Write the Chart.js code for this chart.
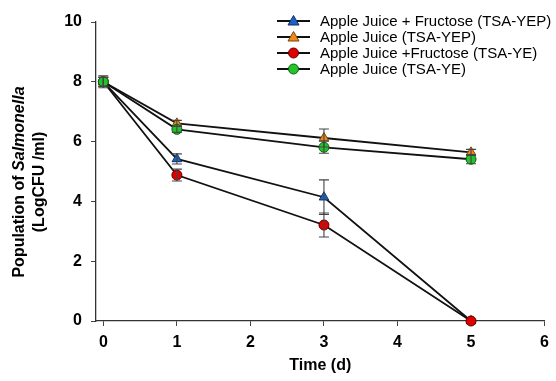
<!DOCTYPE html>
<html>
<head>
<meta charset="utf-8">
<script src="https://cdn.jsdelivr.net/npm/chart.js@4"></script>
<style>
  html, body { margin: 0; padding: 0; background: #fff; }
  #wrap { width: 556px; height: 381px; }
</style>
</head>
<body>
<div id="wrap"><canvas id="salChart" width="556" height="381"></canvas></div>
<script>
// data
const days = [0, 1, 3, 5];
const xTicks = [0, 1, 2, 3, 4, 5, 6];
const yTicks = [0, 2, 4, 6, 8, 10];

const seriesNames = [
  "Apple Juice + Fructose (TSA-YEP)",
  "Apple Juice (TSA-YEP)",
  "Apple Juice +Fructose (TSA-YE)",
  "Apple Juice (TSA-YE)"
];
const fructoseYEP = [8.0, 5.42, 4.14, 0];
const juiceYEP    = [8.0, 6.61, 6.12, 5.64];
const fructoseYE  = [8.0, 4.88, 3.21, 0];
const juiceYE     = [8.0, 6.41, 5.81, 5.41];

const errFructoseYEP = [0.15, 0.17, 0.58, 0];
const errJuiceYEP    = [0.15, 0.1, 0.3, 0.1];
const errFructoseYE  = [0.15, 0.2, 0.4, 0];
const errJuiceYE     = [0.2, 0.1, 0.2, 0.15];

const FONT = "'Liberation Sans', Arial, sans-serif";

const styles = [
  { fill: "#1f62c4", edge: "#0d2f66", shape: "triangle" },
  { fill: "#ee8a1c", edge: "#7a4205", shape: "triangle" },
  { fill: "#e00000", edge: "#5a0000", shape: "circle" },
  { fill: "#22c42a", edge: "#0b5a10", shape: "circle" }
];
const allValues = [fructoseYEP, juiceYEP, fructoseYE, juiceYE];
const allErrors = [errFructoseYEP, errJuiceYEP, errFructoseYE, errJuiceYE];

const datasets = allValues.map((vals, i) => ({
  label: seriesNames[i],
  data: days.map((d, j) => ({ x: d, y: vals[j] })),
  errors: allErrors[i],
  order: allValues.length - 1 - i, // later series sit on top
  borderColor: "#111",
  borderWidth: 1.8,
  tension: 0,
  pointStyle: styles[i].shape,
  pointRadius: styles[i].shape === "triangle" ? 5.5 : 5,
  pointBackgroundColor: styles[i].fill,
  pointBorderColor: styles[i].edge,
  pointBorderWidth: 1,
  clip: false
}));

// error bars drawn with the chart's scales
const errorBars = {
  id: "errorBars",
  afterDatasetsDraw(chart) {
    const { ctx, scales: { x, y } } = chart;
    ctx.save();
    ctx.strokeStyle = "#444";
    ctx.lineWidth = 1.1;
    chart.data.datasets.forEach(ds => {
      ds.data.forEach((p, j) => {
        const e = ds.errors[j];
        if (!e) return;
        const px = x.getPixelForValue(p.x);
        const top = y.getPixelForValue(p.y + e);
        const bot = y.getPixelForValue(p.y - e);
        ctx.beginPath();
        ctx.moveTo(px, top); ctx.lineTo(px, bot);
        ctx.moveTo(px - 5, top); ctx.lineTo(px + 5, top);
        ctx.moveTo(px - 5, bot); ctx.lineTo(px + 5, bot);
        ctx.stroke();
      });
    });
    ctx.restore();
  }
};

function drawMarker(ctx, shape, cx, cy, fill, edge) {
  ctx.beginPath();
  if (shape === "circle") {
    ctx.arc(cx, cy, 5, 0, Math.PI * 2);
  } else {
    ctx.moveTo(cx, cy - 5.5);
    ctx.lineTo(cx + 5.5, cy + 4);
    ctx.lineTo(cx - 5.5, cy + 4);
    ctx.closePath();
  }
  ctx.fillStyle = fill;
  ctx.fill();
  ctx.strokeStyle = edge;
  ctx.lineWidth = 1;
  ctx.stroke();
}

// legend in the top right, line + marker + label
const legendBox = {
  id: "legendBox",
  afterDraw(chart) {
    const ctx = chart.ctx;
    ctx.save();
    ctx.font = "15px " + FONT;
    ctx.textBaseline = "middle";
    seriesNames.forEach((name, i) => {
      const yy = 21 + i * 16;
      ctx.strokeStyle = "#111";
      ctx.lineWidth = 1.8;
      ctx.beginPath();
      ctx.moveTo(277, yy); ctx.lineTo(310, yy);
      ctx.stroke();
      drawMarker(ctx, styles[i].shape, 293.5, yy, styles[i].fill, styles[i].edge);
      ctx.fillStyle = "#000";
      ctx.fillText(name, 320, yy + 1);
    });
    ctx.restore();
  }
};

// rotated y title with italic genus name
const yTitle = {
  id: "yTitle",
  afterDraw(chart) {
    const ctx = chart.ctx;
    ctx.save();
    ctx.translate(0, 182);
    ctx.rotate(-Math.PI / 2);
    ctx.fillStyle = "#000";
    ctx.textBaseline = "middle";
    const bold = "bold 16px " + FONT;
    const ital = "italic bold 16px " + FONT;
    ctx.font = bold;
    const a = "Population of ";
    const wa = ctx.measureText(a).width;
    ctx.font = ital;
    const wb = ctx.measureText("Salmonella").width;
    let sx = -(wa + wb) / 2;
    ctx.font = bold;
    ctx.textAlign = "left";
    ctx.fillText(a, sx, 20);
    ctx.font = ital;
    ctx.fillText("Salmonella", sx + wa, 20);
    ctx.font = bold;
    ctx.textAlign = "center";
    ctx.fillText("(LogCFU /ml)", 0, 40);
    ctx.restore();
  }
};

const ctx = document.getElementById("salChart").getContext("2d");
const chart = new Chart(ctx, {
  type: "line",
  data: { datasets: datasets },
  plugins: [errorBars, legendBox, yTitle],
  options: {
    responsive: false,
    animation: false,
    layout: { padding: { top: 22, right: 6, left: 0, bottom: 0 } },
    plugins: {
      legend: { display: false },
      tooltip: { enabled: false }
    },
    scales: {
      x: {
        type: "linear",
        min: -0.1,
        max: 6,
        afterBuildTicks: axis => { axis.ticks = xTicks.map(v => ({ value: v })); },
        afterFit: scale => { scale.height = 60; },
        grid: { display: true, drawOnChartArea: false, drawTicks: true, tickLength: 5, color: "#444", lineWidth: 1 },
        border: { display: true, color: "#333", width: 1.3 },
        ticks: { color: "#000", padding: 7, font: { family: FONT, size: 16, weight: "bold" } },
        title: { display: true, text: "Time (d)", color: "#000", padding: { top: 0, bottom: 6 }, font: { family: FONT, size: 16, weight: "bold" } }
      },
      y: {
        min: 0,
        max: 10,
        afterBuildTicks: axis => { axis.ticks = yTicks.map(v => ({ value: v })); },
        afterFit: scale => { scale.width = 96; },
        grid: { display: true, drawOnChartArea: false, drawTicks: true, tickLength: 5, color: "#444", lineWidth: 1 },
        border: { display: true, color: "#333", width: 1.3 },
        ticks: { color: "#000", padding: 9, font: { family: FONT, size: 16, weight: "bold" } }
      }
    }
  }
});
</script>
</body>
</html>
